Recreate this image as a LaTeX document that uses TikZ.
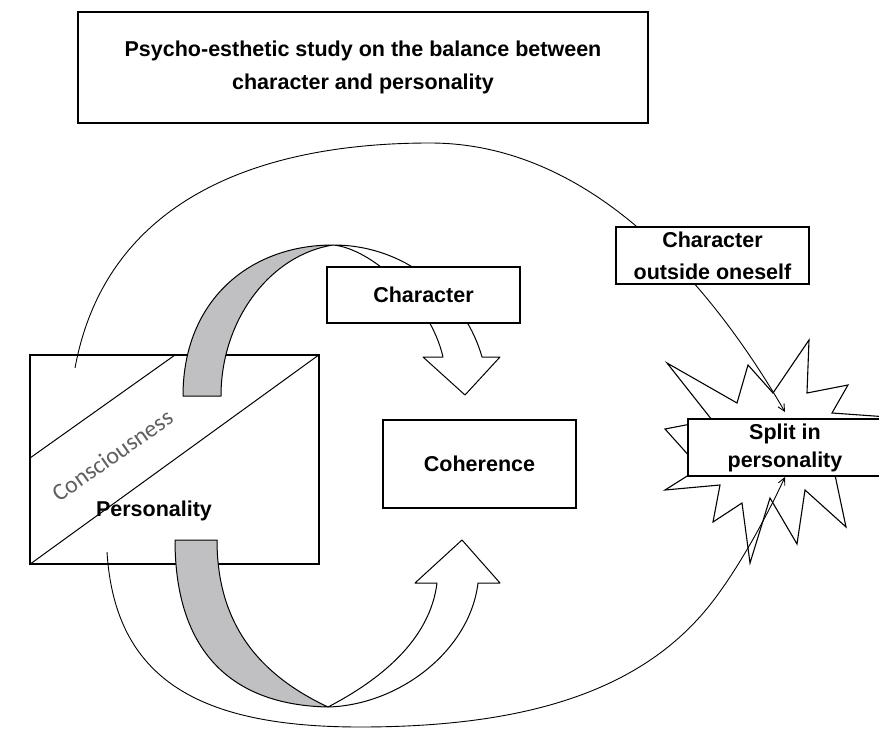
\documentclass[tikz,border=0pt]{standalone}
\usepackage{fontspec}
\setmainfont{Liberation Sans}
\newfontfamily\calib{Carlito}
\usetikzlibrary{arrows.meta}
\definecolor{bandgray}{RGB}{192,192,195}
\definecolor{congray}{RGB}{95,95,95}
\begin{document}
\begin{tikzpicture}[x=1pt,y=-1pt,
  box/.style={draw=black, line width=1.3pt, fill=white, inner sep=0pt, align=center,
    font=\bfseries\fontsize{21.5}{32}\selectfont},
  conn/.style={draw=black, line width=0.9pt},
  tipend/.style={-{Straight Barb[length=7pt,width=7pt]}},
  band/.style={draw=black, line width=1pt, line join=round},
  starshape/.style={draw=black, line width=1.1pt, fill=white, line join=miter}]
\path[use as bounding box] (0,0) rectangle (879,733);
\clip (0,0) rectangle (879,733);

% explosion star
\draw[starshape] (667,363) -- (737,403) -- (748,365) -- (773,393) -- (809,340) -- (807,393)
  -- (848,385) -- (832,413) -- (1000,425) -- (1000,480) -- (835,475) -- (846,527)
  -- (805,490) -- (797,544) -- (770,498) -- (750,563) -- (742,503) -- (713,522)
  -- (720,485) -- (665,490) -- (700,468) -- (665,429) -- (712,420) -- cycle;

% title
\node[box, minimum width=570pt, minimum height=111pt,
  font=\bfseries\fontsize{21.5}{33}\selectfont] (title) at (363,67.5)
  {Psycho-esthetic study on the balance between\\character and personality};

% personality box
\node[draw=black, line width=1.3pt, minimum width=289pt, minimum height=209pt, inner sep=0pt]
  (pbox) at (174.5,459.5) {};
\draw[line width=1pt] (pbox.south west) -- (pbox.north east);
\draw[line width=1pt] (30,458) -- (175,355);
\node[font=\calib\fontsize{24}{24}\selectfont, text=congray, rotate=35, anchor=base, inner sep=0pt]
  (cons) at (117,462) {Consciousness};
\node[font=\bfseries\fontsize{21.5}{24}\selectfont, inner sep=0pt] (pers) at (154,511) {Personality};

% long connectors
\coordinate (ts) at (75,368);
\coordinate (te) at (785,412);
\coordinate (bs) at (107,552);
\coordinate (be) at (785,477);
\draw[conn, tipend] (ts) .. controls (105,205) and (250,143) .. (430,143)
  .. controls (600,143) and (720,300) .. (te);
\draw[conn, tipend] (bs) .. controls (115,680) and (200,727) .. (360,727)
  .. controls (510,727) and (625,698) .. (697,620)
  .. controls (730,585) and (765,520) .. (be);

% upper curved arrow
\draw[band, fill=bandgray] (183,396) .. controls (183,300) and (250,245) .. (333,245)
  .. controls (270,255) and (221,320) .. (221,396) -- cycle;
\draw[band, fill=white] (333,245) .. controls (410,245) and (466,300) .. (482,357)
  -- (500,357) -- (465,395) -- (423,357) -- (443,357)
  .. controls (430,300) and (370,248) .. (333,245) -- cycle;

% lower curved arrow
\draw[band, fill=bandgray] (175,540) .. controls (175,650) and (230,705) .. (328,707)
  .. controls (260,675) and (217,625) .. (217,540) -- cycle;
\draw[band, fill=white] (328,707) .. controls (400,705) and (470,650) .. (478,583)
  -- (500,583) -- (462,540) -- (415,583) -- (437,583)
  .. controls (430,640) and (380,680) .. (328,707) -- cycle;

% boxes
\node[box, minimum width=193pt, minimum height=56pt] (char) at (423.5,295) {Character};
\node[box, minimum width=193pt, minimum height=88pt] (coh) at (479.5,464) {Coherence};
\node[box, minimum width=193pt, minimum height=57pt] (charout) at (712.5,255.5)
  {Character\\outside oneself};
\node[box, minimum width=194pt, minimum height=57pt,
  font=\bfseries\fontsize{21.5}{28}\selectfont] (split) at (785,447.5)
  {Split in\\personality};
\end{tikzpicture}
\end{document}
